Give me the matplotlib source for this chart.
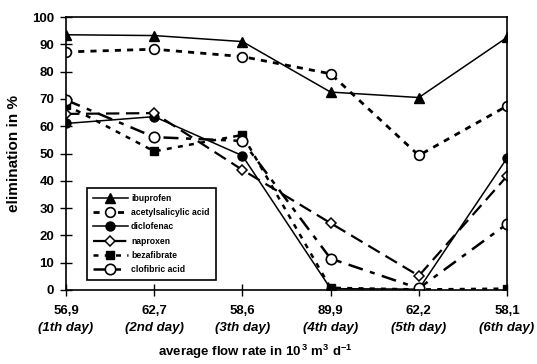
import matplotlib.pyplot as plt
from matplotlib.transforms import blended_transform_factory

plt.rcParams['font.family'] = ['Liberation Sans', 'DejaVu Sans']
plt.rcParams['mathtext.fontset'] = 'custom'
plt.rcParams['mathtext.rm'] = 'Liberation Sans:bold'
plt.rcParams['mathtext.bf'] = 'Liberation Sans:bold'

flow_rates = ["56,9", "62,7", "58,6", "89,9", "62,2", "58,1"]
days = ["(1th day)", "(2nd day)", "(3th day)", "(4th day)", "(5th day)", "(6th day)"]

ibuprofen = [93.5, 93.2, 91.0, 72.5, 70.5, 92.5]
acetylsalicylic = [87.2, 88.2, 85.5, 79.2, 49.3, 67.4]
diclofenac = [61.0, 63.5, 49.2, 0.5, 0.3, 48.3]
naproxen = [64.5, 64.8, 44.0, 24.5, 5.2, 41.7]
bezafibrate = [67.8, 50.8, 56.8, 0.8, 0.2, 0.5]
clofibric = [69.6, 56.0, 54.6, 11.5, 0.6, 24.2]

x = list(range(len(flow_rates)))

fig = plt.figure(figsize=(5.37, 3.64), dpi=100)
ax = fig.add_axes([66 / 537, 74 / 364, 441 / 537, 273 / 364])

ax.plot(x, ibuprofen, color="black", lw=1.1, marker="^", ms=6.5,
        mfc="black", mec="black", label="ibuprofen")
ax.plot(x, acetylsalicylic, color="black", lw=2.0, ls=(0, (2.2, 2.2)), marker="o",
        ms=7, mfc="white", mec="black", mew=1.2, label="acetylsalicylic acid")
ax.plot(x, diclofenac, color="black", lw=1.1, marker="o", ms=6.5,
        mfc="black", mec="black", label="diclofenac")
ax.plot(x, naproxen, color="black", lw=1.6, ls=(0, (6, 3)), marker="D", ms=5.5,
        mfc="white", mec="black", mew=1.1, label="naproxen")
ax.plot(x, bezafibrate, color="black", lw=1.8, ls=(0, (2, 2.5)), marker="s", ms=6,
        mfc="black", mec="black", label="bezafibrate")
ax.plot(x, clofibric, color="black", lw=1.8, ls=(0, (6, 3, 2, 3)), marker="o", ms=7.5,
        mfc="white", mec="black", mew=1.2, label="clofibric acid")

ax.set_xlim(0, 5)
ax.set_ylim(0, 100)
ax.set_yticks(range(0, 101, 10))
ax.set_xticks(x)
ax.set_xticklabels(flow_rates, fontsize=9.5, fontweight="bold")
for lab in ax.get_yticklabels():
    lab.set_fontsize(9.5)
    lab.set_fontweight("bold")
ax.tick_params(axis="both", direction="inout", length=9, width=1.0, colors="black")
ax.tick_params(axis="x", pad=6)
ax.tick_params(axis="y", pad=4)
for sp in ax.spines.values():
    sp.set_linewidth(1.2)

trans = blended_transform_factory(ax.transData, ax.transAxes)
for xi, d in zip(x, days):
    ax.text(xi, -0.139, d, transform=trans, ha="center", va="center",
            fontsize=9.5, fontweight="bold", fontstyle="italic")

ax.set_ylabel("elimination in %", fontsize=11, fontweight="bold")
ax.yaxis.set_label_coords(-0.102, 0.5)
fig.text(255 / 537, 1 - 352 / 364,
         r"average flow rate in 10$^{\,3}$ m$^{3}$ d$^{-1}$",
         ha="center", va="center", fontsize=9.5, fontweight="bold")

leg = ax.legend(loc="lower left", bbox_to_anchor=(0.048, 0.037), borderaxespad=0,
                fancybox=False, edgecolor="black", framealpha=1,
                prop={"size": 6.2, "weight": "bold"}, handlelength=4.0,
                labelspacing=0.6, borderpad=0.7, handletextpad=0.4)
leg.get_frame().set_linewidth(1.2)

fig.savefig("out.png", dpi=100)
